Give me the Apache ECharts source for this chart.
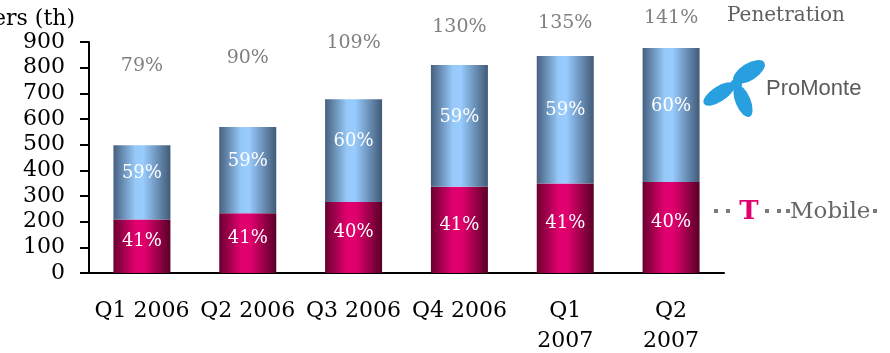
<!DOCTYPE html>
<html>
<head>
<meta charset="utf-8">
<script src="https://cdn.jsdelivr.net/npm/echarts@6/dist/echarts.min.js"></script>
<style>
html,body{margin:0;padding:0;background:#fff;}
#chart{width:890px;height:353px;}
</style>
</head>
<body>
<div id="chart"></div>
<script>
// ---- data ----
var categories = ['Q1 2006', 'Q2 2006', 'Q3 2006', 'Q4 2006', 'Q1\n2007', 'Q2\n2007'];
var tMobile = [208, 233, 277, 336, 349, 355];
var proMonte = [290, 336, 400, 474, 496, 522];
var tMobileShare = [41, 41, 40, 41, 41, 40];
var proMonteShare = [59, 59, 60, 59, 59, 60];
var penetration = [79, 90, 109, 130, 135, 141];
var yTicks = { min: 0, max: 900, interval: 100 };

var SERIF = 'DejaVu Serif';
var chart = echarts.init(document.getElementById('chart'), null, { renderer: 'canvas' });

function grad(stops) {
  return { type: 'linear', x: 0, y: 0, x2: 1, y2: 0, colorStops: stops };
}
var redGrad = grad([
  { offset: 0, color: '#6a0030' }, { offset: 0.38, color: '#e0006e' },
  { offset: 0.55, color: '#df006d' }, { offset: 1, color: '#580026' }
]);
var blueGrad = grad([
  { offset: 0, color: '#46607f' }, { offset: 0.38, color: '#96c8f8' },
  { offset: 0.52, color: '#99ccff' }, { offset: 1, color: '#415a77' }
]);

function lobe(cx, cy, rx, ry, rot) {
  return { type: 'circle', x: cx, y: cy, scaleX: rx, scaleY: ry, rotation: rot,
    shape: { cx: 0, cy: 0, r: 1 }, style: { fill: '#28a0e0' } };
}
function dot(x) {
  return { type: 'rect', shape: { x: x - 2, y: 209, width: 4, height: 4 }, style: { fill: '#7a7a7a' } };
}

var option = {
  animation: false,
  grid: { left: 89, right: 166, top: 42, bottom: 80, containLabel: false, outerBoundsMode: 'none' },
  xAxis: {
    type: 'category',
    data: categories,
    axisLine: { lineStyle: { color: '#000', width: 2 } },
    axisTick: { length: 8, lineStyle: { color: '#000', width: 2 } },
    axisLabel: { interval: 0, fontFamily: SERIF, fontSize: 22, color: '#000', margin: 23, lineHeight: 30 }
  },
  yAxis: [{
    type: 'value',
    min: yTicks.min, max: yTicks.max, interval: yTicks.interval,
    name: 'Subscribers (th)',
    nameLocation: 'end',
    nameGap: 12,
    nameTextStyle: { fontFamily: SERIF, fontSize: 22, color: '#000', align: 'right', padding: [0, 14, 0, 0] },
    splitLine: { show: false },
    axisLine: { show: true, lineStyle: { color: '#000', width: 2 } },
    axisTick: { show: true, length: 9, lineStyle: { color: '#000', width: 2 } },
    axisLabel: { fontFamily: SERIF, fontSize: 22, color: '#000', margin: 24 }
  }, {
    type: 'value', show: false, min: -187.7, max: 110.1, splitLine: { show: false }
  }],
  series: [{
    name: 'T-Mobile', type: 'bar', stack: 'total', barWidth: 57,
    data: tMobile,
    itemStyle: { color: redGrad },
    label: { show: true, position: 'inside', offset: [0, -5], fontFamily: SERIF, fontSize: 18, color: '#fff',
      formatter: function (p) { return tMobileShare[p.dataIndex] + '%'; } }
  }, {
    name: 'ProMonte', type: 'bar', stack: 'total', barWidth: 57,
    data: proMonte,
    itemStyle: { color: blueGrad },
    label: { show: true, position: 'inside', offset: [0, -9], fontFamily: SERIF, fontSize: 18, color: '#fff',
      formatter: function (p) { return proMonteShare[p.dataIndex] + '%'; } }
  }, {
    name: 'Penetration', type: 'scatter', yAxisIndex: 1, symbolSize: 0, clip: false,
    data: penetration,
    label: { show: true, position: 'inside', fontFamily: SERIF, fontSize: 19, color: '#5f5f5f',
      formatter: function (p) { return p.value + '%'; } }
  }],
  graphic: [
    { type: 'text', x: 727, y: 16, style: { text: 'Penetration', font: '20px "DejaVu Serif"', fill: '#5f5f5f', verticalAlign: 'middle' } },
    lobe(749, 72, 18, 8.5, 0.56),
    lobe(719, 94, 18, 7.5, 0.58),
    lobe(743, 101, 7.5, 17, 0.4),
    { type: 'circle', shape: { cx: 736, cy: 85, r: 6 }, style: { fill: '#28a0e0' } },
    { type: 'text', x: 766, y: 89, style: { text: 'ProMonte', font: '22px "Liberation Sans"', fill: '#5a5a5a', verticalAlign: 'middle' } },
    dot(716), dot(728),
    { type: 'text', x: 749, y: 212, style: { text: 'T', font: 'bold 26px "DejaVu Serif"', fill: '#e0006e', align: 'center', verticalAlign: 'middle' } },
    dot(767), dot(779), dot(788),
    { type: 'text', x: 790, y: 212, style: { text: 'Mobile', font: '23px "DejaVu Serif"', fill: '#666', verticalAlign: 'middle' } },
    dot(875)
  ]
};
chart.setOption(option);
</script>
</body>
</html>
